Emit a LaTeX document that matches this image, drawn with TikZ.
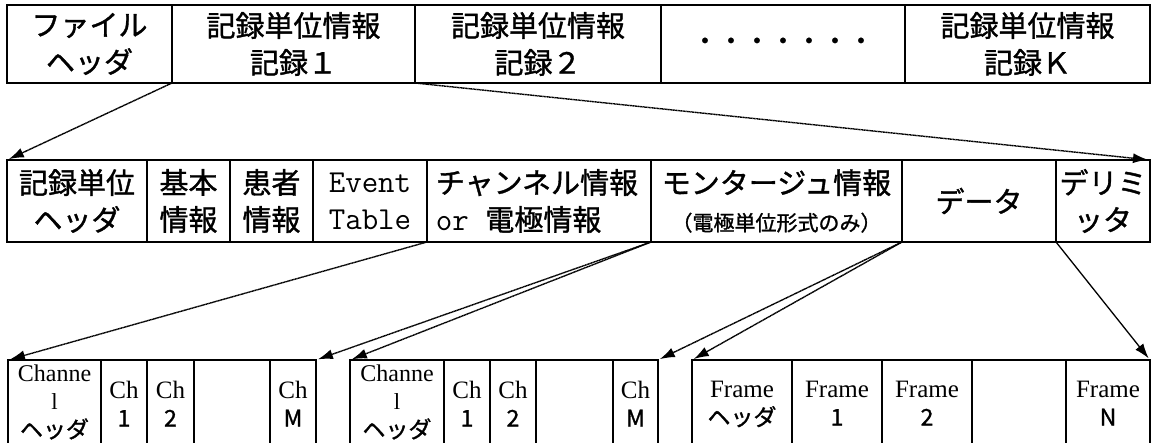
\documentclass[tikz,border=0pt]{standalone}
\usepackage{fontspec}
\newfontfamily\jp{Noto Sans CJK JP}[FakeBold=1.2]
\newfontfamily\tms{Liberation Serif}
\usetikzlibrary{arrows.meta}
\newcommand\mkcell[5]{\node[cell, minimum width=#4pt, minimum height=#5pt] (#1) at (#2,#3) {};}
\begin{document}
\begin{tikzpicture}[x=1pt,y=-1pt,
  cell/.style={draw, line width=1.6pt, anchor=north west, inner sep=0pt, outer sep=0pt},
  lbl/.style={align=center, inner sep=0pt, font=\jp\fontsize{29}{37}\selectfont},
  blbl/.style={align=center, inner sep=0pt, anchor=north, font=\jp\fontsize{23}{28}\selectfont},
  link/.style={line width=1.4pt, dash pattern=on 1.2pt off 0.4pt, shorten >=2pt, -{Latex[length=15pt,width=10pt]}},
  solidlink/.style={line width=1.3pt, shorten >=2pt, -{Latex[length=15pt,width=10pt]}}]
\useasboundingbox (0,0) rectangle (1157,443);
% top row
\mkcell{fh}{7}{5}{165}{78}
\mkcell{ra}{172}{5}{243}{78}
\mkcell{rb}{415}{5}{246}{78}
\mkcell{rd}{661}{5}{244}{78}
\mkcell{rk}{905}{5}{245}{78}
\node[lbl] (tfh) at (fh.center) {ファイル\\ヘッダ};
\node[lbl] (tra) at (ra.center) {記録単位情報\\記録１};
\node[lbl] (trb) at (rb.center) {記録単位情報\\記録２};
\node[lbl, font=\jp\fontsize{26}{36}\selectfont] (trd) at (rd.center) {・・・・・・・};
\node[lbl] (trk) at (rk.center) {記録単位情報\\記録Ｋ};
% middle row
\mkcell{m1}{7}{160}{140}{82}
\mkcell{m2}{147}{160}{83}{82}
\mkcell{m3}{230}{160}{83}{82}
\mkcell{m4}{313}{160}{114}{82}
\mkcell{m5}{427}{160}{224}{82}
\mkcell{m6}{651}{160}{251}{82}
\mkcell{m7}{902}{160}{154}{82}
\mkcell{m8}{1056}{160}{94}{82}
\node[lbl] (tm1) at (m1.center) {記録単位\\ヘッダ};
\node[lbl] (tm2) at (m2.center) {基本\\情報};
\node[lbl] (tm3) at (m3.center) {患者\\情報};
\node[lbl, font=\ttfamily\fontsize{32}{37}\selectfont] (tm4) at (m4.center) {Event\\Table};
\node[lbl, align=left] (tm5) at ([xshift=-2pt]m5.center) {チャンネル情報\\{\ttfamily\fontsize{32}{37}\selectfont or }電極情報};
\node[lbl] (tm6) at (m6.center) {モンタージュ情報\\{\fontsize{21}{24}\selectfont （電極単位形式のみ）}};
\node[lbl] (tm7) at (m7.center) {データ};
\node[lbl] (tm8) at (m8.center) {デリミ\\ッタ};
% bottom row
\mkcell{b1}{8}{360}{93}{120}
\mkcell{b2}{101}{360}{46}{120}
\mkcell{b3}{147}{360}{47}{120}
\mkcell{b4}{194}{360}{76}{120}
\mkcell{b5}{270}{360}{46}{120}
\mkcell{c1}{350}{360}{94}{120}
\mkcell{c2}{444}{360}{46}{120}
\mkcell{c3}{490}{360}{46}{120}
\mkcell{c4}{536}{360}{77}{120}
\mkcell{c5}{613}{360}{45}{120}
\mkcell{f1}{692}{360}{100}{120}
\mkcell{f2}{792}{360}{90}{120}
\mkcell{f3}{882}{360}{90}{120}
\mkcell{f4}{972}{360}{94}{120}
\mkcell{f5}{1066}{360}{84}{120}
\node[blbl] (tb1) at ([yshift=-5pt]b1.north) {\tms\fontsize{24}{27}\selectfont Channe\\\tms l\\\jp ヘッダ};
\node[blbl] (tb2) at ([yshift=-21pt]b2.north) {\tms\fontsize{25}{28}\selectfont Ch\\\jp 1};
\node[blbl] (tb3) at ([yshift=-21pt]b3.north) {\tms\fontsize{25}{28}\selectfont Ch\\\jp 2};
\node[blbl] (tb5) at ([yshift=-21pt]b5.north) {\tms\fontsize{25}{28}\selectfont Ch\\\jp M};
\node[blbl] (tc1) at ([yshift=-5pt]c1.north) {\tms\fontsize{24}{27}\selectfont Channe\\\tms l\\\jp ヘッダ};
\node[blbl] (tc2) at ([yshift=-21pt]c2.north) {\tms\fontsize{25}{28}\selectfont Ch\\\jp 1};
\node[blbl] (tc3) at ([yshift=-21pt]c3.north) {\tms\fontsize{25}{28}\selectfont Ch\\\jp 2};
\node[blbl] (tc5) at ([yshift=-21pt]c5.north) {\tms\fontsize{25}{28}\selectfont Ch\\\jp M};
\node[blbl] (tf1) at ([yshift=-21pt]f1.north) {\tms\fontsize{25}{28}\selectfont Frame\\\jp ヘッダ};
\node[blbl] (tf2) at ([yshift=-21pt]f2.north) {\tms\fontsize{25}{28}\selectfont Frame\\\jp 1};
\node[blbl] (tf3) at ([yshift=-21pt]f3.north) {\tms\fontsize{25}{28}\selectfont Frame\\\jp 2};
\node[blbl] (tf5) at ([yshift=-21pt]f5.north) {\tms\fontsize{25}{28}\selectfont Frame\\\jp N};
% connectors
\draw[link] (ra.south west) -- (m1.north west);
\draw[link] (rb.south west) -- (m8.north east);
\draw[link] (m5.south west) -- (b1.north west);
\draw[link] (m6.south west) -- (b5.north east);
\draw[link] (m6.south west) -- (c1.north west);
\draw[link] (m7.south west) -- (c5.north east);
\draw[link] (m7.south west) -- (f1.north west);
\draw[solidlink] (m8.south west) -- (f5.north east);
\end{tikzpicture}
\end{document}
